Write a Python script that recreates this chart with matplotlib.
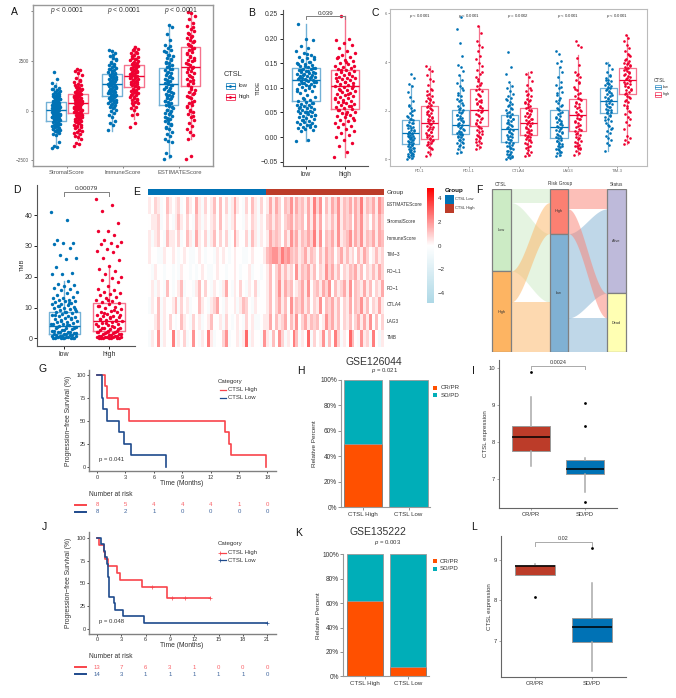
import matplotlib
matplotlib.use("Agg")
import matplotlib.pyplot as plt
from matplotlib.colors import LinearSegmentedColormap, ListedColormap
from matplotlib.patches import Rectangle
from matplotlib.transforms import blended_transform_factory
import numpy as np

plt.rcParams['font.family'] = ['Liberation Sans', 'DejaVu Sans']
plt.rcParams['mathtext.fontset'] = 'custom'
plt.rcParams['mathtext.it'] = 'Liberation Sans:italic'
plt.rcParams['mathtext.rm'] = 'Liberation Sans'

BLUE = '#0072B5'
RED = '#EE0030'
DARKRED = '#BC3C29'
GREY = '#808080'
TXT = '#333333'

# panel A
a_cats = ['StromalScore', 'ImmuneScore', 'ESTIMATEScore']
a_box = [(-500, 30, 420), (-130, 400, 860), (755, 1330, 1830), (1175, 1760, 2290), (285, 1340, 2130), (1225, 2180, 3220)]
a_whisk = [(-1850, 1400), (-1500, 2100), (-1000, 3050), (-400, 3250), (-2400, 4300), (-1450, 4900)]
a_stromal_low = [-1880,-1830,-1760,-1580,-1220,-1170,-1090,-1040,-990,-960,-900,-870,-810,-790,-730,-700,-650,-630,-570,-550,-490,-470,-430,-400,-370,-340,-310,-280,-250,-220,-190,-170,-130,-110,-70,-40,-10,20,50,70,110,130,170,200,220,260,290,310,350,380,410,450,480,530,570,610,650,690,730,780,830,880,930,990,1040,1100,1160,1260,1410,1600,1960,
    -1130,-1010,-930,-840,-760,-680,-600,-520,-450,-385,-325,-265,-205,-150,-90,-25,35,90,150,185,240,275,330,395,460,510,590,670,760,860,960,1070]
a_stromal_high = [-1760,-1700,-1640,-1420,-1340,-1250,-1180,-1090,-1020,-950,-880,-810,-760,-700,-640,-590,-530,-480,-440,-390,-340,-300,-250,-210,-170,-130,-90,-50,-10,30,70,100,140,180,210,250,280,320,360,390,430,470,500,540,580,620,660,700,740,780,830,870,920,970,1020,1080,1140,1200,1280,1370,1470,1560,1660,1780,1880,1980,2070,2120,
    -1130,-980,-840,-730,-610,-510,-410,-320,-230,-150,-70,10,85,160,230,300,375,450,520,600,680,760,850,950,1050,1170,1320,1510]
a_immune_low = [-980,-720,-620,-530,-320,-210,-100,-20,60,140,210,280,340,400,450,510,560,610,660,700,750,790,840,880,920,970,1010,1060,1100,1150,1190,1240,1280,1330,1370,1410,1460,1500,1540,1590,1630,1680,1720,1770,1820,1870,1920,1970,2030,2090,2150,2220,2290,2370,2450,2530,2640,2760,2900,3010,3060,
    180,310,425,535,635,725,815,900,990,1080,1170,1260,1350,1430,1520,1610,1700,1790,1890,2000,2120,2250,2410,2590,2830]
a_immune_high = [-820,-620,-230,-180,30,120,200,290,370,450,520,590,650,710,770,830,890,950,1000,1060,1110,1170,1220,1280,1330,1380,1430,1480,1530,1580,1630,1680,1730,1780,1830,1880,1930,1980,2030,2080,2130,2180,2240,2290,2350,2410,2470,2530,2600,2660,2730,2810,2890,2970,3050,3130,3220,
    410,555,680,800,920,1030,1140,1250,1355,1455,1555,1655,1755,1855,1955,2055,2155,2265,2380,2500,2630,2770,2930,3090]
a_est_low = [-2420,-2300,-2120,-1600,-1540,-1420,-1300,-1180,-1050,-940,-830,-720,-620,-530,-440,-350,-260,-180,-100,-20,60,140,220,300,370,440,510,580,650,720,790,860,930,1000,1070,1140,1210,1280,1350,1420,1490,1560,1640,1720,1800,1880,1960,2040,2120,2200,2290,2380,2470,2560,2650,2740,2830,2940,3050,3160,3330,3560,3850,4220,4300,
    -880,-670,-480,-310,-140,20,180,335,475,615,755,895,1035,1175,1315,1455,1600,1760,1920,2080,2245,2425,2605,2785,2995,3240]
a_est_high = [-2420,-2280,-1420,-1200,-1060,-920,-780,-620,-460,-320,-180,-60,60,180,290,400,510,620,730,840,950,1060,1170,1280,1380,1480,1580,1680,1780,1880,1980,2080,2180,2280,2380,2480,2580,2680,2780,2880,2980,3080,3180,3280,3380,3480,3580,3680,3780,3880,4000,4140,4280,4420,4620,4780,4920,4990,
    -250,0,235,455,675,895,1115,1330,1530,1730,1930,2130,2330,2530,2730,2930,3130,3330,3530,3730,3940,4210]
a_pvals = ['< 0.0001', '< 0.0001', '< 0.0001']

# panel B
b_low = [-0.008,-0.006,0.012,0.015,0.017,0.018,0.020,0.021,0.022,0.025,0.026,0.028,0.030,0.031,0.033,0.034,0.036,0.038,0.040,0.042,0.043,0.045,0.046,0.048,0.050,0.051,0.053,0.054,0.056,0.057,0.059,0.060,0.062,0.063,0.065,0.066,0.068,0.070,0.072,0.074,0.076,0.079,0.082,0.086,0.090,0.093,0.096,0.098,0.100,0.102,0.104,0.105,0.107,0.108,0.110,0.111,0.113,0.114,0.115,0.117,0.118,0.120,0.121,0.122,0.124,0.125,0.126,0.128,0.129,0.130,0.132,0.133,0.135,0.136,0.138,0.139,0.140,0.142,0.144,0.146,0.148,0.150,0.152,0.155,0.158,0.160,0.163,0.166,0.170,0.175,0.180,0.185,0.197,0.200,0.230,
    0.024,0.035,0.044,0.052,0.061,0.069,0.078,0.094,0.103,0.109,0.112,0.116,0.119,0.123,0.127,0.131,0.134,0.137,0.141,0.145,0.149,0.153,0.157,0.162,0.168]
b_high = [-0.040,-0.030,-0.018,-0.012,-0.005,0.000,0.004,0.008,0.012,0.016,0.020,0.023,0.026,0.029,0.032,0.035,0.038,0.040,0.043,0.045,0.048,0.050,0.052,0.055,0.057,0.059,0.061,0.063,0.065,0.067,0.069,0.071,0.073,0.075,0.077,0.079,0.081,0.083,0.085,0.087,0.089,0.091,0.093,0.095,0.097,0.099,0.101,0.103,0.105,0.107,0.109,0.111,0.113,0.115,0.117,0.119,0.121,0.123,0.125,0.127,0.129,0.131,0.133,0.135,0.137,0.139,0.141,0.143,0.145,0.148,0.151,0.154,0.157,0.160,0.163,0.167,0.171,0.175,0.180,0.186,0.192,0.198,0.200,0.245,
    0.034,0.046,0.056,0.064,0.072,0.080,0.088,0.096,0.104,0.112,0.120,0.128,0.136,0.144,0.153,0.162]

# panel C
c_cats = ['PD-1', 'PD-L1', 'CTLA4', 'LAG3', 'TIM-3']
c_box = [(0.62,1.07,1.60),(0.85,1.48,2.18),(1.03,1.42,2.01),(1.36,2.03,2.88),(0.73,1.25,1.81),(1.00,1.49,2.12),(0.86,1.34,2.05),(1.15,1.81,2.50),(1.92,2.40,2.93),(2.67,3.27,3.74)]
c_whisk = [(0.02,3.05),(0.12,3.85),(0.27,3.45),(0.42,5.5),(0.02,3.1),(0.15,3.6),(0.15,3.8),(0.2,4.3),(0.35,4.0),(0.65,5.1)]
c_pvals = ['< 0.0001', '< 0.0001', '= 0.0002', '< 0.0001', '< 0.0001']
c_points = [
    [0.02,0.06,0.10,0.14,0.18,0.22,0.26,0.30,0.34,0.38,0.42,0.46,0.50,0.54,0.58,0.62,0.66,0.70,0.74,0.78,0.82,0.86,0.90,0.94,0.98,1.02,1.06,1.10,1.14,1.18,1.22,1.27,1.32,1.37,1.42,1.48,1.54,1.60,1.68,1.76,1.84,1.92,2.02,2.12,2.24,2.38,2.55,2.75,3.00,3.08,3.36,3.50,
     0.12,0.24,0.36,0.48,0.60,0.72,0.80,0.88,0.96,1.04,1.12,1.20,1.30,1.40,1.51,1.64,1.80,1.97,2.18],
    [0.12,0.22,0.32,0.42,0.50,0.58,0.66,0.72,0.78,0.84,0.90,0.96,1.02,1.08,1.14,1.20,1.26,1.32,1.38,1.44,1.50,1.56,1.62,1.68,1.74,1.80,1.86,1.92,1.98,2.04,2.10,2.16,2.22,2.30,2.38,2.46,2.54,2.62,2.70,2.80,2.90,3.06,3.22,3.32,3.48,3.62,3.72,3.85,
     0.46,0.62,0.75,0.87,0.99,1.11,1.23,1.35,1.47,1.59,1.71,1.83,1.95,2.07,2.19,2.34,2.50,2.66,2.85],
    [0.27,0.32,0.42,0.50,0.58,0.66,0.72,0.78,0.84,0.90,0.96,1.02,1.06,1.10,1.14,1.18,1.24,1.30,1.36,1.42,1.48,1.54,1.60,1.66,1.72,1.78,1.84,1.90,1.96,2.04,2.12,2.20,2.30,2.40,2.50,2.60,2.72,2.86,3.00,3.14,3.28,3.46,3.65,3.80,3.90,4.25,4.80,5.35,5.85,
     0.55,0.69,0.81,0.93,1.04,1.12,1.21,1.33,1.45,1.57,1.69,1.81,1.93,2.08,2.25,2.45,2.66,2.93],
    [0.42,0.50,0.58,0.66,0.74,0.82,0.90,0.98,1.06,1.14,1.22,1.30,1.38,1.46,1.54,1.62,1.70,1.78,1.86,1.94,2.02,2.10,2.18,2.26,2.34,2.42,2.50,2.60,2.70,2.80,2.90,3.00,3.12,3.24,3.38,3.52,3.66,3.82,3.98,4.12,4.26,4.44,4.60,4.72,4.85,5.20,5.50,
     0.70,0.86,1.02,1.18,1.34,1.50,1.66,1.82,1.98,2.14,2.30,2.46,2.65,2.85,3.06,3.31,3.59],
    [0.02,0.05,0.09,0.14,0.18,0.24,0.30,0.36,0.42,0.48,0.54,0.60,0.66,0.72,0.78,0.84,0.90,0.96,1.02,1.08,1.14,1.20,1.26,1.32,1.38,1.44,1.50,1.56,1.62,1.68,1.74,1.80,1.88,1.96,2.04,2.12,2.20,2.28,2.36,2.44,2.52,2.60,2.70,2.82,2.94,3.00,3.20,3.50,3.80,4.40,
     0.08,0.21,0.33,0.45,0.57,0.69,0.81,0.93,1.05,1.17,1.29,1.41,1.53,1.65,1.77,1.92,2.08,2.24,2.48],
    [0.15,0.20,0.26,0.32,0.38,0.46,0.54,0.62,0.70,0.78,0.84,0.90,0.96,1.02,1.08,1.14,1.20,1.26,1.32,1.38,1.44,1.50,1.56,1.62,1.68,1.74,1.80,1.86,1.92,1.98,2.04,2.10,2.18,2.26,2.34,2.42,2.50,2.60,2.70,2.80,2.92,3.06,3.22,3.40,3.52,3.60,
     0.50,0.66,0.81,0.93,1.05,1.17,1.29,1.41,1.53,1.65,1.77,1.89,2.01,2.14,2.30,2.46,2.65,2.86],
    [0.15,0.20,0.26,0.32,0.38,0.44,0.50,0.56,0.62,0.68,0.74,0.80,0.86,0.92,0.98,1.04,1.10,1.16,1.22,1.28,1.34,1.40,1.46,1.52,1.58,1.64,1.70,1.78,1.86,1.94,2.02,2.10,2.20,2.30,2.40,2.52,2.64,2.78,2.92,3.06,3.20,3.40,3.60,3.80,3.95,4.05,4.35,4.45,
     0.29,0.41,0.53,0.65,0.77,0.89,1.01,1.13,1.25,1.37,1.49,1.61,1.74,1.90,2.06,2.25,2.46,2.71,2.99],
    [0.20,0.28,0.36,0.42,0.48,0.54,0.60,0.68,0.76,0.84,0.92,1.00,1.08,1.16,1.24,1.32,1.40,1.48,1.56,1.64,1.72,1.80,1.88,1.96,2.04,2.12,2.20,2.28,2.36,2.44,2.52,2.62,2.72,2.84,2.98,3.12,3.26,3.40,3.50,3.58,3.90,4.18,4.60,4.72,4.85,
     0.45,0.57,0.72,0.88,1.04,1.20,1.36,1.52,1.68,1.84,2.00,2.16,2.32,2.48,2.67,2.91,3.19,3.45],
    [0.35,0.58,0.66,0.78,0.88,0.98,1.08,1.18,1.28,1.38,1.48,1.58,1.66,1.74,1.82,1.90,1.96,2.02,2.08,2.14,2.20,2.26,2.32,2.38,2.44,2.50,2.56,2.62,2.68,2.74,2.80,2.86,2.92,2.98,3.04,3.10,3.16,3.22,3.28,3.36,3.46,3.58,3.72,3.86,3.98,
     1.23,1.43,1.62,1.78,1.93,2.05,2.17,2.29,2.41,2.53,2.65,2.77,2.89,3.01,3.13,3.25,3.41],
    [0.65,0.72,0.80,0.88,0.95,1.25,1.40,1.52,1.64,1.76,1.88,2.00,2.12,2.24,2.34,2.44,2.54,2.62,2.70,2.78,2.84,2.90,2.96,3.02,3.08,3.14,3.20,3.26,3.32,3.38,3.44,3.50,3.56,3.62,3.68,3.74,3.80,3.86,3.92,3.98,4.06,4.14,4.24,4.34,4.46,4.58,4.72,4.88,5.00,5.10,
     1.94,2.18,2.39,2.58,2.74,2.87,2.99,3.11,3.23,3.35,3.47,3.59,3.71,3.83,3.95,4.10,4.29],
]

# panel D
d_low = [41,38.5,31.8,31,30.8,30.5,29.3,27,26,25.7,23.2,21.3,21,20.8,18.5,17.8,17.4,17,16.5,16,15.7,15.2,14.8,14,13.5,13.2,13,12.5,12.3,12,12,11.8,11.5,11.2,11,10.8,10.5,10.2,10,9.8,9.5,9.2,9,8.7,8.4,8.2,8,7.7,7.4,7.2,7,6.7,6.4,6.2,6,5.7,5.4,5.2,5,4.8,4.5,4.2,4,3.8,3.5,3.2,3,2.8,2.5,2.2,2,1.8,1.5,1.3,1,0.8,0.6,0.5,0.3,0.2,0.1,0.1,
    11.6,10.6,9.6,8.6,7.6,6.6,5.6,4.6,4.4,3.6,3.4,2.6,2.4,2.1,1.9,1.6,1.4,1.2,1.1,0.9,0.7,0.4,0.3,0.2,0.2,0.1,0.1,0.1]
d_high = [45.2,43.3,41.4,37.5,35,34.9,33.5,32,31.3,31,30.5,30,29,28.3,28,26,25.5,23.5,22.5,21.8,20.8,19.8,19.5,18.8,18.3,17,16,15.7,15.2,14.8,14.3,14,13.5,13,12.6,12.2,11.8,11.4,11,10.6,10.2,9.8,9.4,9,8.7,8.4,8,7.7,7.4,7.2,7,6.7,6.4,6.1,5.8,5.5,5.2,5,4.7,4.4,4.1,3.8,3.5,3.2,3,2.7,2.4,2.2,2,1.8,1.5,1.3,1,0.8,0.6,0.4,0.3,0.2,0.1,0.1,
    12.4,10.4,9.2,8.2,7.5,6.9,6.2,5.6,5.1,4.5,3.9,3.3,2.9,2.5,2.1,1.9,1.6,1.4,1.2,0.9,0.7,0.5,0.4,0.3,0.2,0.2,0.1,0.1]

# panel E, digits stand for score levels from -0.8 upward in steps of 0.4
e_labels = ['ESTIMATEScore', 'StromalScore', 'ImmuneScore', 'TIM\u22123', 'PD\u2212L1', 'PD\u22121', 'CTLA4', 'LAG3', 'TMB']
e_rows = [
    '32431253234125326314235252413632142531423636425473645363847253647354636483546375',
    '23341242135324215313234252313522132431324535424563545263736243537354526473425364',
    '31342153324125316324135242412632241531323645425374635464837254637345736473546365',
    '32211322321232112321221323212322112322235677586754534635425364524635342536423534',
    '21322122121322121232112322122321223122123524635342735463524374635243546352435364',
    '23132152123512213524213213621324213241223524736452346372453647253463725436352436',
    '13251322351423122532134621322313542132223524635273546352437254635243625473524363',
    '22351324212532142312352231421232142311233625346253724635452374635243524636372524',
    '13271322813241272132831224712231391322173152741328513291423715284132952173418203',
]
e_ticks = [4, 2, 0, -2, -4]

# panel F, flow sizes between the strata
f_ctsl_risk = {'low_high': 40, 'low_low': 205, 'high_high': 93, 'high_low': 151}
f_risk_status = {'high_alive': 59, 'high_dead': 74, 'low_alive': 253, 'low_dead': 103}

# panel G
g_high_t = [0, 0.8, 1.1, 2.2, 3.4, 13.5, 13.9, 14.2, 17.8]
g_high_s = [100, 87.5, 75, 62.5, 50, 37.5, 25, 12.5, 0]
g_low_t = [0, 0.53, 0.67, 1.0, 2.3, 2.8, 3.6, 7.3]
g_low_s = [100, 75, 62.5, 50, 37.5, 25, 12.5, 0]
g_risk_t = [0, 3, 6, 9, 12, 15, 18]
g_risk_high = [8, 5, 4, 4, 4, 1, 0]
g_risk_low = [8, 2, 1, 0, 0, 0, 0]

# panel J
j_high_t = [0, 0.2, 0.9, 1.0, 1.3, 2.5, 2.8, 5.6, 8.6, 13.9]
j_high_s = [100, 92.3, 84.6, 76.9, 69.2, 61.5, 53.8, 46.2, 34.6, 34.6]
j_high_cens_t = [6.8, 9.3, 10.8, 13.9]
j_high_cens_s = [46.2, 34.6, 34.6, 34.6]
j_low_t = [0, 0.5, 0.9, 1.0, 1.2, 1.3, 1.5, 2.1, 2.2, 3.2, 5.8, 21]
j_low_s = [100, 92.9, 85.7, 78.6, 71.4, 57, 35.7, 28.6, 21.4, 14.3, 7.1, 7.1]
j_risk_t = [0, 3, 6, 9, 12, 15, 18, 21]
j_risk_high = [13, 7, 6, 3, 1, 0, 0, 0]
j_risk_low = [14, 3, 1, 1, 1, 1, 1, 0]

# panels H and K
bar_cats = ['CTSL High', 'CTSL Low']
h_cr = [50, 0]
k_cr = [62, 7.5]

# panels I and L
i_cats = ['CR/PR', 'SD/PD']
i_box = [(7.35, 7.77, 8.13, 8.43, 9.22), (6.67, 7.14, 7.27, 7.51, 7.57)]
i_fliers = [[9.88], [9.05, 8.44, 6.39]]
l_box = [(8.62, 8.62, 8.84, 8.88, 8.90), (6.24, 6.96, 7.33, 7.55, 8.43)]
l_fliers = [[8.07], [9.28]]

W, H = 676, 698
fig = plt.figure(figsize=(W / 100, H / 100), dpi=100)


def px_axes(l, t, r, b):
    return fig.add_axes([l / W, 1 - b / H, (r - l) / W, (b - t) / H])


ov = fig.add_axes([0, 0, 1, 1], zorder=10)
ov.set_xlim(0, W)
ov.set_ylim(H, 0)
ov.axis('off')


def label(x, y, s, size=6, ha='center', va='center', color=TXT, **kw):
    ov.text(x, y, s, fontsize=size, ha=ha, va=va, color=color, **kw)


def cloud(ax, pos, vals, width, color, s):
    # fixed spread across the column, keeps points apart without any randomness
    off = (np.arange(len(vals)) * 0.618034) % 1 - 0.5
    ax.scatter(pos + off * 2 * width, vals, s=s, color=color, linewidths=0, zorder=2)


def box(ax, pos, stats, color, width, lw=1.0, alpha=0.55):
    lo, hi = stats[1]
    q1, med, q3 = stats[0]
    d = [{'whislo': lo, 'q1': q1, 'med': med, 'q3': q3, 'whishi': hi, 'fliers': []}]
    ax.bxp(d, positions=[pos], widths=width, showcaps=False, showfliers=False, manage_ticks=False, zorder=3,
           boxprops=dict(color=color, lw=lw, alpha=alpha),
           whiskerprops=dict(color=color, lw=lw, alpha=alpha),
           medianprops=dict(color=color, lw=lw))


def bracket(ax, x0, x1, y, drop, text, ty, color=GREY, size=5):
    ax.plot([x0, x0, x1, x1], [y - drop, y, y, y - drop], color=color, lw=0.7, clip_on=False, zorder=5)
    ax.text((x0 + x1) / 2, ty, text, fontsize=size, ha='center', va='center', color=TXT, clip_on=False)


def simple_spines(ax, color='#555555', lw=0.8):
    ax.spines[['top', 'right']].set_visible(False)
    ax.spines[['left', 'bottom']].set_color(color)
    ax.spines[['left', 'bottom']].set_linewidth(lw)


# A
ax = px_axes(33, 5, 213, 166)
ax.set_xlim(-0.6, 2.6)
ax.set_ylim(-2787, 5327)
clouds = [a_stromal_low, a_stromal_high, a_immune_low, a_immune_high, a_est_low, a_est_high]
for i in range(6):
    pos = i // 2 + (-0.19 if i % 2 == 0 else 0.2)
    col = BLUE if i % 2 == 0 else RED
    cloud(ax, pos, clouds[i], 0.075, col, 6.5)
    box(ax, pos, (a_box[i], a_whisk[i]), col, 0.35)
ax.set_xticks(range(3))
ax.set_xticklabels(a_cats)
ax.set_yticks([-2500, 0, 2500, 5000])
ax.set_yticklabels(['\u22122500', '0', '2500', ''])
ax.tick_params(axis='y', labelsize=3.3, length=1.5, width=0.5, pad=1.5, labelcolor='#555555', color='#555555')
ax.tick_params(axis='x', labelsize=4.2, length=1.5, width=0.5, pad=1.5, labelcolor='#555555', color='#555555')
for sp in ax.spines.values():
    sp.set_color('#999999')
    sp.set_linewidth(1)
for i in range(3):
    ax.text(i + 0.02 * i, 5030, r'$\mathit{p}$ ' + a_pvals[i], fontsize=4.9, ha='center', va='center', color=TXT, zorder=6)
label(224, 74, 'CTSL', 5.3, ha='left')
for y, c, s in [(85.5, BLUE, 'low'), (96.5, RED, 'high')]:
    ov.add_patch(Rectangle((225.5, y - 3), 9, 6, fill=False, ec=c, lw=0.7, alpha=0.7))
    ov.plot([225.5, 234.5], [y, y], color=c, lw=0.8)
    ov.plot([230], [y], 'o', color=c, ms=2, mew=0)
    label(238.5, y, s, 4.3, ha='left')

# B
ax = px_axes(283, 10, 368, 165.7)
ax.set_xlim(-0.59, 1.59)
ax.set_ylim(-0.058, 0.258)
cloud(ax, 0, b_low, 0.25, BLUE, 6)
cloud(ax, 1, b_high, 0.27, RED, 6)
box(ax, 0, ((0.073, 0.115, 0.14), (-0.008, 0.23)), BLUE, 0.7)
box(ax, 1, ((0.0575, 0.104, 0.1365), (-0.04, 0.245)), RED, 0.7)
ax.set_xticks([0, 1])
ax.set_xticklabels(['low', 'high'])
ax.set_yticks([-0.05, 0, 0.05, 0.10, 0.15, 0.20, 0.25])
ax.set_yticklabels(['\u22120.05', '0.00', '0.05', '0.10', '0.15', '0.20', '0.25'])
ax.tick_params(labelsize=4.9, length=2, width=0.6, pad=1.5, labelcolor=TXT)
label(258, 88, 'TIDE', 4.5, rotation=90)
simple_spines(ax)
bracket(ax, 0, 1, 0.245, 0.006, '0.039', 0.2505, size=4.5)

# C
ax = px_axes(390, 9.3, 647, 165.7)
ax.set_xlim(-0.6, 4.6)
ax.set_ylim(-0.26, 6.17)
for i in range(10):
    pos = i // 2 + (-0.18 if i % 2 == 0 else 0.2)
    col = BLUE if i % 2 == 0 else RED
    cloud(ax, pos, c_points[i], 0.07, col, 3.6)
    box(ax, pos, (c_box[i], c_whisk[i]), col, 0.35, lw=0.9)
ax.set_xticks(range(5))
ax.set_xticklabels(c_cats)
ax.set_yticks([0, 2, 4, 6])
ax.tick_params(labelsize=3, length=1.2, width=0.4, pad=1, labelcolor='#666666', color='#666666')
for sp in ax.spines.values():
    sp.set_color('#bbbbbb')
    sp.set_linewidth(0.8)
for i in range(5):
    ax.text(i, 5.9, r'$\mathit{p}$ ' + c_pvals[i], fontsize=3.1, ha='center', va='center', color=TXT, zorder=6)
label(654, 80, 'CTSL', 3.4, ha='left')
for y, c, s in [(87, BLUE, 'low'), (94.5, RED, 'high')]:
    ov.add_patch(Rectangle((654.5, y - 2.3), 6.5, 4.6, fill=False, ec=c, lw=0.5, alpha=0.8))
    ov.plot([654.5, 661], [y, y], color=c, lw=0.5)
    label(663, y, s, 2.8, ha='left')

# D
ax = px_axes(37.3, 185, 135, 345.7)
ax.set_xlim(-0.6, 1.58)
ax.set_ylim(-2.4, 49.8)
cloud(ax, 0, d_low, 0.29, BLUE, 6)
cloud(ax, 1, d_high, 0.29, RED, 6)
box(ax, 0, ((1.3, 3.9, 8.4), (0.1, 18.5)), BLUE, 0.7)
box(ax, 1, ((2.4, 5.6, 11.4), (0.1, 23.5)), RED, 0.7)
ax.set_xticks([0, 1])
ax.set_xticklabels(['low', 'high'])
ax.set_yticks([0, 10, 20, 30, 40])
ax.tick_params(labelsize=5, length=2, width=0.6, pad=1.5, labelcolor=TXT)
label(22, 265, 'TMB', 4.2, rotation=90)
simple_spines(ax)
bracket(ax, 0, 1, 47.4, 1.3, '0.00079', 48.8, size=4.6)

# E
cmap = LinearSegmentedColormap.from_list('hm', ['#ADD8E6', '#FFFFFF', '#FF0000'])
e_data = np.array([[int(c) * 0.4 - 0.8 for c in row] for row in e_rows])
ax = px_axes(148.3, 196.7, 384.3, 346.7)
im = ax.imshow(e_data, aspect='auto', cmap=cmap, vmin=-4.8, vmax=4.8, interpolation='nearest')
ax.axis('off')
ax = px_axes(148.3, 189, 384.3, 195)
ax.imshow([[0] * 40 + [1] * 40], aspect='auto', cmap=ListedColormap([BLUE, DARKRED]), interpolation='nearest')
ax.axis('off')
label(387, 192.5, 'Group', 4.5, ha='left')
for i, s in enumerate(e_labels):
    label(387, 205 + i * 16.6, s, 3.4, ha='left')
cax = px_axes(426.7, 188, 434, 303)
cb = fig.colorbar(im, cax=cax)
cb.set_ticks(e_ticks)
cb.set_ticklabels(['4', '2', '0', '\u22122', '\u22124'])
cb.outline.set_visible(False)
cb.ax.tick_params(labelsize=4.4, length=0, pad=2.5, labelcolor=TXT)
label(445, 190.7, 'Group', 4.5, ha='left', fontweight='bold', color='#111111')
ov.add_patch(Rectangle((445, 195), 8.5, 9, fc=BLUE, ec='none'))
ov.add_patch(Rectangle((445, 204), 8.5, 8.5, fc=DARKRED, ec='none'))
label(455, 199.5, 'CTSL Low', 2.9, ha='left')
label(455, 207.5, 'CTSL High', 2.9, ha='left')

# F
ax = px_axes(484.5, 189.3, 633.4, 352.3)
ax.set_xlim(-0.3, 2.3)
ax.set_ylim(489, 0)
ax.axis('off')
f_w = 0.33
col_low, col_high = '#CCEBC5', '#FDB462'
col_rhigh, col_rlow = '#FB8072', '#80B1D3'
col_alive, col_dead = '#BEBADA', '#FFFFB3'


def flow(x0, x1, y0, y1, size, color):
    t = np.linspace(0, 1, 60)
    sm = t * t * (3 - 2 * t)
    x = x0 + (x1 - x0) * t
    top = y0 + (y1 - y0) * sm
    ax.fill_between(x, top, top + size, color=color, alpha=0.5, lw=0)


fc = f_ctsl_risk
fr = f_risk_status
ctsl_low = fc['low_high'] + fc['low_low']
risk_high = fc['low_high'] + fc['high_high']
alive = fr['high_alive'] + fr['low_alive']
flow(f_w / 2, 1 - f_w / 2, 0, 0, fc['low_high'], col_low)
flow(f_w / 2, 1 - f_w / 2, fc['low_high'], risk_high, fc['low_low'], col_low)
flow(f_w / 2, 1 - f_w / 2, ctsl_low, fc['low_high'], fc['high_high'], col_high)
flow(f_w / 2, 1 - f_w / 2, ctsl_low + fc['high_high'], risk_high + fc['low_low'], fc['high_low'], col_high)
flow(1 + f_w / 2, 2 - f_w / 2, 0, 0, fr['high_alive'], col_rhigh)
flow(1 + f_w / 2, 2 - f_w / 2, risk_high, fr['high_alive'], fr['low_alive'], col_rlow)
flow(1 + f_w / 2, 2 - f_w / 2, fr['high_alive'], alive, fr['high_dead'], col_rhigh)
flow(1 + f_w / 2, 2 - f_w / 2, risk_high + fr['low_alive'], alive + fr['high_dead'], fr['low_dead'], col_rlow)
total = 489
strata = [(0, 0, ctsl_low, col_low, 'Low'), (0, ctsl_low, total - ctsl_low, col_high, 'High'),
          (1, 0, risk_high, col_rhigh, 'High'), (1, risk_high, total - risk_high, col_rlow, 'low'),
          (2, 0, alive, col_alive, 'Alive'), (2, alive, total - alive, col_dead, 'Dead')]
for c, y, h, color, name in strata:
    ax.add_patch(Rectangle((c - f_w / 2, y), f_w, h, fc=color, ec=GREY, lw=0.9))
    ax.text(c, y + h / 2, name, fontsize=2.8, ha='center', va='center', color=TXT)
label(501, 184, 'CTSL', 3.3)
label(560, 184, 'Risk Group', 3.4)
label(616, 184, 'Status', 3.3)


# G and J
HI, LO = '#F8444B', '#1E4A8C'


def km(top, bottom, xmax, xtick, xright, high, low, risk_t, risk_high, risk_low, pval, pval_y, xlab_y, y_base, cens=None):
    ax = px_axes(89, top, 276, bottom)
    ax.set_xlim(xmax[0], xmax[1])
    ax.set_ylim(xright[0], xright[1])
    ax.step(high[0], high[1], where='post', color=HI, lw=1.2)
    ax.step(low[0], low[1], where='post', color=LO, lw=1.2)
    if cens is not None:
        ax.plot(cens[0], cens[1], '+', color=HI, ms=3, mew=0.5)
        ax.plot([21], [7.1], '+', color=LO, ms=3, mew=0.5)
    ax.set_xticks(xtick)
    ax.set_yticks([0, 25, 50, 75, 100])
    ax.tick_params(labelsize=4, length=1.5, width=0.5, pad=1, labelcolor=TXT)
    simple_spines(ax, color=GREY, lw=1)
    label(69, (top + bottom) / 2, 'Progression\u2212free Survival (%)', 4.9, rotation=90)
    label(182, xlab_y, 'Time (Months)', 4.9)
    label(99, pval_y, pval, 4.3, ha='left')
    label(218, y_base, 'Category', 4.4, ha='left')
    marker = '+' if cens is not None else None
    for y, c, s in [(y_base + 9, HI, 'CTSL High'), (y_base + 16.7, LO, 'CTSL Low')]:
        ov.plot([219.5, 225.5], [y, y], color=c, lw=0.9, marker=marker, ms=3, mew=0.5, markevery=[0])
        label(228.5, y, s, 4.3, ha='left')
    label(88.7, y_base + 113, 'Number at risk', 4.8, ha='left')
    tr = blended_transform_factory(ax.transData, ov.transData)
    for y, c, vals in [(y_base + 123.5, HI, risk_high), (y_base + 130.5, LO, risk_low)]:
        ov.plot([75, 86], [y, y], color=c, lw=1.4)
        for t, n in zip(risk_t, vals):
            ov.text(t, y, str(n), transform=tr, fontsize=4.3, ha='center', va='center', color=c, alpha=0.85)
    return ax


km(369.7, 471.3, (-0.85, 18.9), [0, 3, 6, 9, 12, 15, 18], (-4.7, 105.4),
   (g_high_t, g_high_s), (g_low_t, g_low_s), g_risk_t, g_risk_high, g_risk_low, 'p = 0.041', 459, 483.5, 381)
km(532.3, 633.7, (-1, 22.1), [0, 3, 6, 9, 12, 15, 18, 21], (-4.8, 105.8),
   (j_high_t, j_high_s), (j_low_t, j_low_s), j_risk_t, j_risk_high, j_risk_low, 'p = 0.048', 621.7, 645.5, 543.7,
   cens=(j_high_cens_t, j_high_cens_s))

# H and K
ORANGE, TEAL = '#FF5000', '#00AEB8'


def stacked(box_px, xlim, cr, title, title_xy, pv_xy, yl_xy, leg_xy, width):
    ax = px_axes(*box_px)
    ax.set_xlim(*xlim)
    ax.set_ylim(0, 100)
    cr = np.array(cr, dtype=float)
    ax.bar([0, 1], cr, width=width, color=ORANGE, edgecolor='#777777', lw=0.6, clip_on=False)
    ax.bar([0, 1], 100 - cr, width=width, bottom=cr, color=TEAL, edgecolor='#999999', lw=0.6, clip_on=False)
    ax.set_xticks([0, 1])
    ax.set_xticklabels(bar_cats)
    ax.set_yticks([0, 20, 40, 60, 80, 100])
    ax.set_yticklabels(['0%', '20%', '40%', '60%', '80%', '100%'])
    ax.tick_params(axis='y', labelsize=4.7, length=2, width=0.6, pad=1, labelcolor=TXT, color=GREY)
    ax.tick_params(axis='x', labelsize=4.4, length=2, width=0.6, pad=1.5, labelcolor=TXT, color=GREY)
    simple_spines(ax, color='#999999', lw=0.8)
    label(title_xy[0], title_xy[1], title, 7.5)
    label(pv_xy[0], pv_xy[1], r'$\mathit{p}$ = ' + str(pv_xy[2]), 4.3)
    label(yl_xy[0], yl_xy[1], 'Relative Percent', 4.6, rotation=90)
    for y, c, s in [(leg_xy[1], ORANGE, 'CR/PR'), (leg_xy[1] + 7.4, TEAL, 'SD/PD')]:
        ov.plot([leg_xy[0]], [y], 's', color=c, ms=2.2, mew=0)
        label(leg_xy[0] + 5.5, y, s, 4.4, ha='left')


stacked((341, 380, 430, 507.3), (-0.48, 1.47), h_cr, 'GSE126044', (373.7, 362), (385, 370.7, '0.021'), (314, 444), (435.3, 387.7), 0.84)
stacked((343.3, 554.3, 429, 676.3), (-0.5, 1.49), k_cr, 'GSE135222', (378.3, 531.7), (387.3, 542.7, '0.003'), (318.7, 615.7), (434.7, 561.3), 0.83)


# I and L
def expr_box(box_px, ylim, stats, fliers, yticks, yl_xy, br, medlw=1.1):
    ax = px_axes(*box_px)
    ax.set_xlim(-0.593, 1.593)
    ax.set_ylim(*ylim)
    d = [{'whislo': s[0], 'q1': s[1], 'med': s[2], 'q3': s[3], 'whishi': s[4], 'fliers': f} for s, f in zip(stats, fliers)]
    parts = ax.bxp(d, positions=[0, 1], widths=0.7, showcaps=False, manage_ticks=False, patch_artist=True,
                   boxprops=dict(edgecolor='#999999', lw=0.7),
                   whiskerprops=dict(color='#AAAAAA', lw=1.1),
                   medianprops=dict(color='black', lw=medlw),
                   flierprops=dict(marker='o', ms=2, mfc='black', mec='black', mew=0))
    for patch, c in zip(parts['boxes'], [DARKRED, BLUE]):
        patch.set_facecolor(c)
    ax.set_xticks([0, 1])
    ax.set_xticklabels(i_cats)
    ax.set_yticks(yticks)
    ax.tick_params(labelsize=4.2, length=1.5, width=0.5, pad=1.5, labelcolor=TXT, color=GREY)
    simple_spines(ax, color='#666666', lw=0.8)
    label(yl_xy[0], yl_xy[1], 'CTSL expression', 4.4, rotation=90)
    bracket(ax, 0, 1, br[0], br[1], br[2], br[3], color='#AAAAAA', size=3.9)


expr_box((499, 360, 617, 508.3), (6.22, 10.216), i_box, i_fliers, [7, 8, 9, 10], (485, 434),
         (10.06, 0.08, '0.0024', 10.15))
expr_box((500.7, 536, 626, 677.3), (6.096, 9.585), l_box, l_fliers, [7, 8, 9], (489.5, 607),
         (9.44, 0.1, '0.02', 9.53))

# panel letters
letters = [('A', 14, 12), ('B', 252, 13), ('C', 375, 13), ('D', 17, 190), ('E', 137, 192), ('F', 479, 190),
           ('G', 43, 369), ('H', 301, 371), ('I', 473, 371), ('J', 44, 527), ('K', 299, 533), ('L', 474, 527)]
for s, x, y in letters:
    label(x, y, s, 7.5, color='#111111')

fig.savefig('out.png', dpi=100)
